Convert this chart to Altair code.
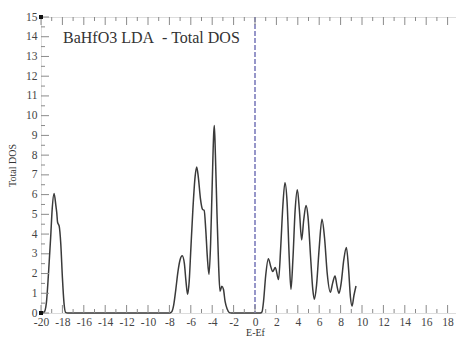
import altair as alt
import pandas as pd

# Total DOS curve (E - Ef, DOS)
energy = [
    -20.0, -19.7, -19.5, -19.3, -19.1, -18.95, -18.78, -18.6, -18.53, -18.45, -18.3, -18.15, -18.0, -17.85, -17.7, -17.5,
    -8.0, -7.8, -7.6, -7.4, -7.2, -7.0, -6.8, -6.6, -6.45, -6.3, -6.15, -6.0, -5.8, -5.6, -5.45, -5.3, -5.1, -4.9,
    -4.75, -4.6, -4.45, -4.3, -4.15, -4.0, -3.85, -3.8, -3.7, -3.55, -3.4, -3.27, -3.1, -2.95, -2.8, -2.6, -2.4, -2.2,
    0.5, 0.65, 0.8, 1.0, 1.25, 1.45, 1.65, 1.9, 2.2, 2.4, 2.6, 2.8, 3.0, 3.2, 3.36, 3.55, 3.75, 3.96, 4.15, 4.36,
    4.55, 4.77, 4.95, 5.2, 5.4, 5.55, 5.75, 6.0, 6.26, 6.5, 6.75, 7.04, 7.25, 7.48, 7.65, 7.85, 8.05, 8.3, 8.54,
    8.75, 8.92, 9.07, 9.25, 9.44,
]
dos = [
    0.0, 0.05, 0.5, 2.0, 3.8, 5.3, 6.05, 5.4, 5.1, 4.6, 4.4, 3.5, 1.8, 0.5, 0.03, 0.0,
    0.0, 0.05, 0.4, 1.2, 2.1, 2.7, 2.9, 2.5, 1.6, 0.95, 1.6, 3.2, 5.3, 6.9, 7.4, 6.9, 5.8, 5.25,
    5.2, 4.2, 2.8, 1.95, 3.5, 6.5, 9.2, 9.5, 8.0, 5.0, 2.4, 1.1, 1.35, 1.2, 0.6, 0.2, 0.02, 0.0,
    0.0, 0.05, 0.6, 1.9, 2.75, 2.4, 2.1, 2.3, 1.7, 3.3, 5.4, 6.6, 5.6, 2.8, 1.2, 2.8, 5.2, 6.25, 5.2, 3.7,
    4.7, 5.45, 4.9, 2.8, 1.2, 0.7, 1.4, 3.3, 4.75, 3.8, 2.0, 1.05, 1.5, 1.88, 1.4, 1.0, 1.5, 2.7, 3.32,
    2.2, 0.8, 0.35, 0.9, 1.37,
]

x_major = list(range(-20, 21, 2))
x_minor = list(range(-19, 20, 2))
y_major = list(range(0, 16))
y_minor = [v + 0.5 for v in range(0, 15)]

title_text = "BaHfO3 LDA\u00a0 - Total DOS"
fermi = [0.0]

W, H = 428, 296
SERIF = "Liberation Serif"
GRAY = "#8a8a8a"

curve_df = pd.DataFrame({"E": energy, "DOS": dos})

xs = alt.Scale(domain=[-20, 20], nice=False, zero=False)
ys = alt.Scale(domain=[0, 15], nice=False, zero=False)

X_AXIS = alt.Axis(values=x_major, labelExpr="'' + datum.value", tickSize=0, domain=False, grid=False,
                  labelFont=SERIF, labelFontSize=11.5, labelColor="#444", labelPadding=3,
                  labelOverlap=False, labelFlush=False,
                  title="E-Ef", titleFont=SERIF, titleFontSize=10, titleFontWeight="normal",
                  titleColor="#333", titlePadding=0)
Y_AXIS = alt.Axis(values=y_major, labelExpr="'' + datum.value", tickSize=0, domain=False, grid=False,
                  labelFont=SERIF, labelFontSize=11.5, labelColor="#444", labelPadding=4,
                  labelOverlap=False, labelFlush=False,
                  title="Total DOS", titleFont=SERIF, titleFontSize=10, titleFontWeight="normal",
                  titleColor="#333", titlePadding=8)

def X(field):
    return alt.X(field, scale=xs, axis=X_AXIS, title="E-Ef")

def Y(field):
    return alt.Y(field, scale=ys, axis=Y_AXIS, title="Total DOS")

line = alt.Chart(curve_df).mark_line(color="#3a3a3a", strokeWidth=1.5, interpolate="monotone").encode(
    x=X("E:Q"), y=Y("DOS:Q"),
)

fermi_line = alt.Chart(pd.DataFrame({"E": fermi})).mark_rule(
    color="#7474b8", strokeWidth=1.5, strokeDash=[5, 2]
).encode(x=X("E:Q"), y=alt.value(0), y2=alt.value(H))

def xticks(vals, length, top):
    df = pd.DataFrame({"v": vals})
    if top:
        y0, y1 = 0, length
    else:
        y0, y1 = H, H - length
    return alt.Chart(df).mark_rule(color=GRAY, strokeWidth=1).encode(
        x=X("v:Q"), y=alt.value(y0), y2=alt.value(y1))

def yticks(vals, length, right):
    df = pd.DataFrame({"v": vals})
    if right:
        x0, x1 = W, W - length
    else:
        x0, x1 = 0, length
    return alt.Chart(df).mark_rule(color=GRAY, strokeWidth=1).encode(
        y=Y("v:Q"), x=alt.value(x0), x2=alt.value(x1))

ticks = [
    xticks(x_major, 8, False), xticks(x_minor, 4, False),
    xticks(x_major, 8, True), xticks(x_minor, 4, True),
    yticks(y_major, 8, False), yticks(y_minor, 4, False),
    yticks(y_major, 8, True), yticks(y_minor, 4, True),
]

label = alt.Chart(pd.DataFrame({"t": [title_text]})).mark_text(
    font=SERIF, fontSize=16, color="#333", align="left", baseline="middle"
).encode(text="t:N", x=alt.value(22), y=alt.value(21))

corner = alt.Chart(pd.DataFrame({"E": [-20, -20], "DOS": [0, 15]})).mark_square(
    color="#111", size=16, opacity=1
).encode(x=X("E:Q"), y=Y("DOS:Q"))

chart = alt.layer(line, fermi_line, *ticks, label, corner).properties(
    width=W, height=H,
    autosize=alt.AutoSizeParams(type="none"),
    padding={"left": 33, "top": 9, "right": -13, "bottom": 25},
).configure_view(stroke=GRAY, strokeWidth=1).configure(background="white")

chart.save("out.html", embed_options={"renderer": "svg", "actions": False})
